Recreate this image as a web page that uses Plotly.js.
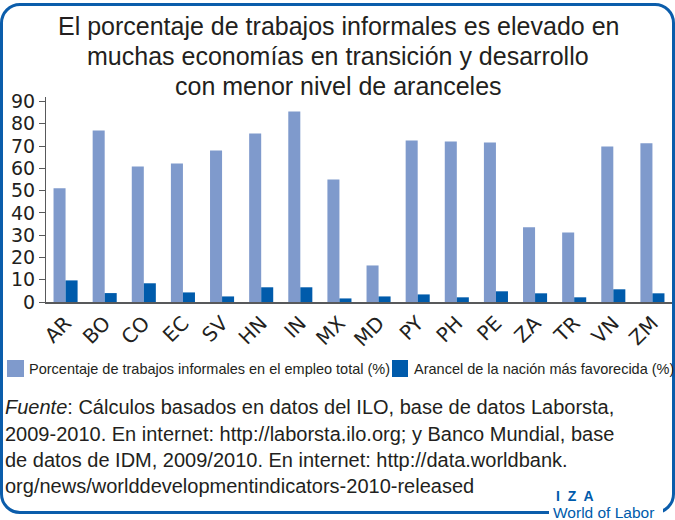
<!DOCTYPE html>
<html>
<head>
<meta charset="utf-8">
<script src="https://cdn.plot.ly/plotly-3.0.1.min.js"></script>
<style>
  html, body { margin: 0; padding: 0; background: #ffffff; }
  #wrap { position: relative; width: 675px; height: 520px; overflow: hidden; }
  #frame { position: absolute; left: 0px; top: 3px; width: 669px; height: 505px;
           border: 3px solid #0b5dab; border-radius: 20px; box-sizing: content-box; }
  #chart { position: absolute; left: 0; top: 0; width: 675px; height: 520px; }
</style>
</head>
<body>
<div id="wrap">
  <div id="frame"></div>
  <div id="chart"></div>
</div>
<script>
// ---- data ----
const countries = ["AR","BO","CO","EC","SV","HN","IN","MX","MD","PY","PH","PE","ZA","TR","VN","ZM"];
const informalShare = [51.0, 77.0, 60.8, 62.2, 68.0, 75.6, 85.5, 55.0, 16.4, 72.5, 72.0, 71.6, 33.5, 31.2, 69.8, 71.2];
const mfnTariff = [9.7, 4.0, 8.4, 4.3, 2.5, 6.6, 6.6, 1.6, 2.5, 3.4, 2.1, 4.8, 3.9, 2.1, 5.7, 3.9];
const seriesNames = ["Porcentaje de trabajos informales en el empleo total (%)", "Arancel de la nación más favorecida (%)"];
const yTicks = [0, 10, 20, 30, 40, 50, 60, 70, 80, 90];
const titleLines = ["El porcentaje de trabajos informales es elevado en", "muchas economías en transición y desarrollo", "con menor nivel de aranceles"];
const sourceLines = [
  "<i>Fuente</i>: Cálculos basados en datos del ILO, base de datos Laborsta,",
  "2009-2010. En internet: http://laborsta.ilo.org; y Banco Mundial, base",
  "de datos de IDM, 2009/2010. En internet: http://data.worldbank.",
  "org/news/worlddevelopmentindicators-2010-released"
];

// ---- styling ----
const lightBlue = "#7f9acc";
const darkBlue = "#005bab";
const textColor = "#231f20";
const W = 675, H = 520;
const M = { l: 46, r: 3, t: 97, b: 218 };
const plotW = W - M.l - M.r, plotH = H - M.t - M.b;
const px = x => (x - M.l) / plotW;
const py = y => (H - M.b - y) / plotH;

const traces = [
  { type: "bar", x: countries, y: informalShare, name: seriesNames[0], marker: { color: lightBlue }, hoverinfo: "x+y" },
  { type: "bar", x: countries, y: mfnTariff, name: seriesNames[1], marker: { color: darkBlue }, hoverinfo: "x+y" }
];

const annotations = [];
// title lines
const titleY = [26, 56, 86];
titleLines.forEach((t, i) => {
  annotations.push({ xref: "paper", yref: "paper", x: px(338), y: py(titleY[i]), xanchor: "center", yanchor: "middle",
    text: t, showarrow: false, font: { family: "Liberation Sans, Arial, sans-serif", size: 25, color: textColor } });
});
// legend text
const legFont = { family: "Liberation Sans, Arial, sans-serif", size: 14.5, color: textColor };
annotations.push({ xref: "paper", yref: "paper", x: px(27), y: py(368.5), xanchor: "left", yanchor: "middle",
  text: seriesNames[0], showarrow: false, font: legFont });
annotations.push({ xref: "paper", yref: "paper", x: px(412), y: py(368.5), xanchor: "left", yanchor: "middle",
  text: seriesNames[1], showarrow: false, font: legFont });
// source lines
const srcY = [407, 434, 460, 486];
sourceLines.forEach((t, i) => {
  annotations.push({ xref: "paper", yref: "paper", x: px(3), y: py(srcY[i]), xanchor: "left", yanchor: "middle",
    text: t, showarrow: false, font: { family: "Liberation Sans, Arial, sans-serif", size: 20, color: textColor } });
});
// IZA logo
annotations.push({ xref: "paper", yref: "paper", x: px(554), y: py(496), xanchor: "left", yanchor: "middle",
  text: "<b>I  Z  A</b>", showarrow: false, font: { family: "Liberation Sans, Arial, sans-serif", size: 14, color: darkBlue } });
annotations.push({ xref: "paper", yref: "paper", x: px(551), y: py(512), xanchor: "left", yanchor: "middle",
  text: "World of Labor", showarrow: false,
  font: { family: "Liberation Sans, Arial, sans-serif", size: 15.5, color: darkBlue } });

const shapes = [
  { type: "rect", xref: "paper", yref: "paper", x0: px(7), x1: px(24), y0: py(377), y1: py(360), fillcolor: lightBlue, line: { width: 0 } },
  { type: "rect", xref: "paper", yref: "paper", x0: px(392), x1: px(408), y0: py(377), y1: py(360), fillcolor: darkBlue, line: { width: 0 } },
  // white patch that breaks the frame's bottom edge behind the logo
  { type: "rect", xref: "paper", yref: "paper", x0: px(549), x1: px(663), y0: py(520), y1: py(504), fillcolor: "#ffffff", line: { width: 0 } }
];

const layout = {
  width: W, height: H,
  margin: M,
  paper_bgcolor: "rgba(0,0,0,0)",
  plot_bgcolor: "rgba(0,0,0,0)",
  showlegend: false,
  barmode: "group",
  bargap: 0.385,
  bargroupgap: 0,
  xaxis: {
    type: "category",
    tickangle: -45,
    tickfont: { family: "DejaVu Sans, sans-serif", size: 20, color: textColor },
    showline: true, linecolor: "#58595b", linewidth: 1.5,
    ticks: "", showgrid: false, zeroline: false, fixedrange: true
  },
  yaxis: {
    range: [0, 92],
    tickvals: yTicks,
    ticktext: yTicks.map(String),
    tickfont: { family: "DejaVu Sans, sans-serif", size: 19, color: textColor },
    ticks: "outside", ticklen: 6, tickcolor: "#58595b", tickwidth: 1,
    showline: true, linecolor: "#58595b", linewidth: 1,
    showgrid: false, zeroline: false, fixedrange: true
  },
  annotations: annotations,
  shapes: shapes
};

Plotly.newPlot("chart", traces, layout, { displayModeBar: false, staticPlot: true });
</script>
</body>
</html>
